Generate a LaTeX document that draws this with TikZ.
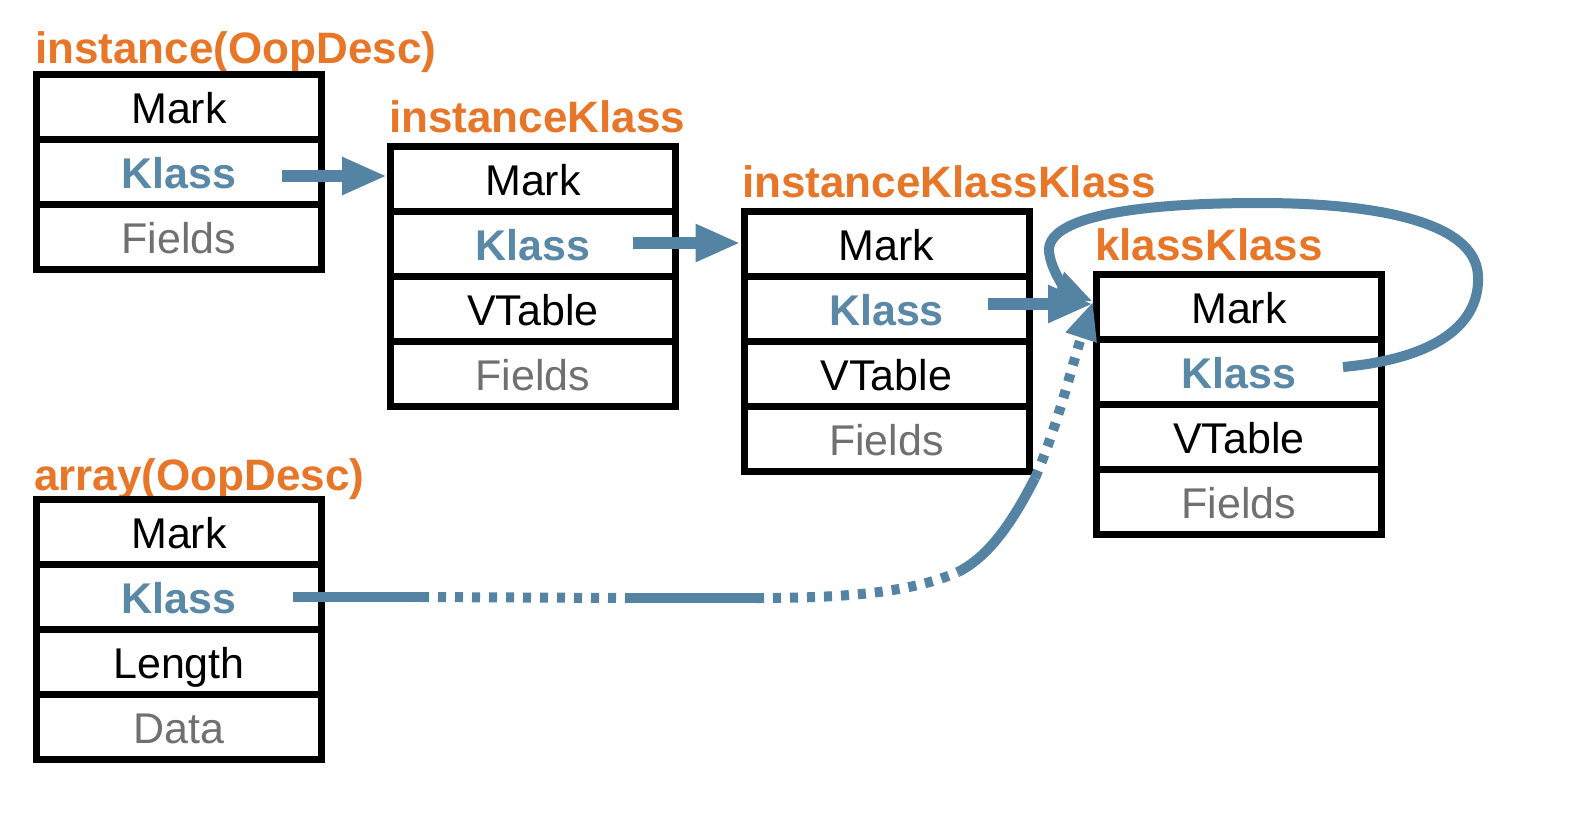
\documentclass[tikz,border=0pt]{standalone}
\usepackage{fontspec}
\setmainfont{Liberation Sans}
\usetikzlibrary{arrows.meta}
\definecolor{ttlorange}{RGB}{232,118,40}
\definecolor{ptrblue}{RGB}{84,131,163}
\definecolor{klblue}{RGB}{90,137,168}
\definecolor{fldgrey}{RGB}{112,112,112}
\begin{document}
\begin{tikzpicture}[x=1bp,y=-1bp,
  cell/.style={draw=black, line width=7bp, minimum width=285bp, minimum height=65bp,
    inner sep=0pt, text height=34bp, text depth=-2bp, font=\fontsize{43bp}{50bp}\selectfont},
  klasscell/.style={cell, text=klblue, font=\fontsize{43bp}{50bp}\selectfont\bfseries},
  fieldcell/.style={cell, text=fldgrey},
  title/.style={anchor=base west, inner sep=0pt, text=ttlorange,
    font=\fontsize{44bp}{50bp}\selectfont\bfseries},
  ptr/.style={draw=ptrblue, line width=12bp, -{Triangle[length=45bp,width=35bp]}},
  curveptr/.style={draw=ptrblue, line width=10bp},
  dotseg/.style={curveptr, dash pattern=on 8bp off 9bp},
  curvetip/.style={-{Triangle[length=38bp,width=30bp]}},
]
\fill[white] (0,0) rectangle (1572,830);
\useasboundingbox (0,0) rectangle (1572,830);

% titles
\node[title] (t1) at (35,63) {instance(OopDesc)};
\node[title] (t2) at (389,132) {instanceKlass};
\node[title] (t3) at (742,197) {instanceKlassKlass};
\node[title] (t4) at (1095,260) {klassKlass};
\node[title] (t5) at (34,490) {array(OopDesc)};

% box 1: instance
\node[cell] (b1m) at (179,106.5) {Mark};
\node[klasscell] (b1k) at (179,171.5) {Klass};
\node[fieldcell] (b1f) at (179,236.5) {Fields};

% box 2: instanceKlass
\node[cell] (b2m) at (533,178.5) {Mark};
\node[klasscell] (b2k) at (533,243.5) {Klass};
\node[cell] (b2v) at (533,308.5) {VTable};
\node[fieldcell] (b2f) at (533,373.5) {Fields};

% box 3: instanceKlassKlass
\node[cell] (b3m) at (886.5,243.5) {Mark};
\node[klasscell] (b3k) at (886.5,308.5) {Klass};
\node[cell] (b3v) at (886.5,373.5) {VTable};
\node[fieldcell] (b3f) at (886.5,438.5) {Fields};

% box 4: klassKlass
\node[cell] (b4m) at (1239,306.5) {Mark};
\node[klasscell] (b4k) at (1239,371.5) {Klass};
\node[cell] (b4v) at (1239,436.5) {VTable};
\node[fieldcell] (b4f) at (1239,501.5) {Fields};

% box 5: array
\node[cell] (b5m) at (179,531.5) {Mark};
\node[klasscell] (b5k) at (179,596.5) {Klass};
\node[cell] (b5l) at (179,661.5) {Length};
\node[fieldcell] (b5d) at (179,726.5) {Data};

% straight pointers
\coordinate (s1) at (282,176);
\coordinate (s2) at (633,243);
\coordinate (s3) at (988,304);
\draw[ptr] (s1) -- (s1 -| b2m.west);
\draw[ptr] (s2) -- (s2 -| b3m.west);
\draw[ptr] (s3) -- (s3 -| b4m.west);

% self loop of klassKlass
\coordinate (tip) at ([yshift=5bp]b4m.west);
\coordinate (ls) at (1343,367);
\draw[curveptr, curvetip] (ls) .. controls (1440,358) and (1480,322) .. (1478,276)
  .. controls (1476,220) and (1370,203) .. (1260,203)
  .. controls (1130,203) and (1046,218) .. (1049,252)
  .. controls (1052,275) and (1070,292) .. (tip);

% array klass pointer (dash-dot)
\coordinate (d0) at (293,597);
\coordinate (d1) at (421,597);
\coordinate (d2) at (627,598);
\coordinate (d3) at (756,598);
\coordinate (d4) at (958,572);
\coordinate (d5) at (1035,478);
\draw[curveptr] (d0) -- (d1);
\draw[dotseg] (d1) -- (d2);
\draw[curveptr] (d2) -- (d3);
\draw[dotseg] (d3) .. controls (850,598) and (912,592) .. (d4);
\draw[curveptr] (d4) .. controls (992,555) and (1016,515) .. (d5);
\draw[dotseg, curvetip] (d5) .. controls (1058,425) and (1072,365) .. (tip);
\end{tikzpicture}
\end{document}
